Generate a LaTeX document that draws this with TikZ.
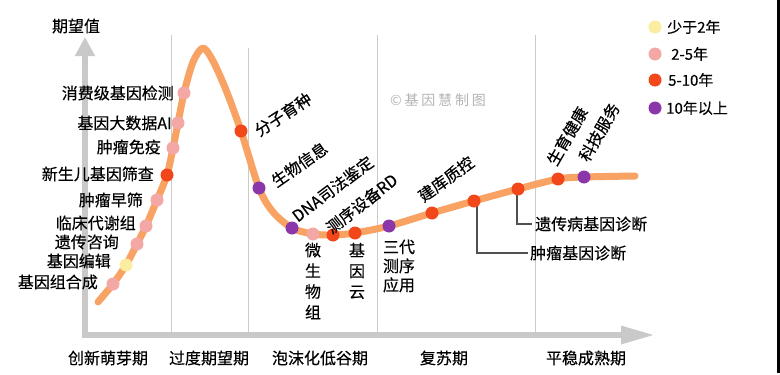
\documentclass[tikz,border=0pt]{standalone}
\usepackage{fontspec}
\setmainfont{Noto Sans CJK SC}[FakeBold=0.35]
\newfontfamily\wmfont{Noto Sans CJK SC}
\usetikzlibrary{arrows.meta}
\definecolor{cOrange}{HTML}{F8A263}
\definecolor{cYel}{HTML}{FAEDA0}
\definecolor{cPink}{HTML}{F4A8A6}
\definecolor{cRed}{HTML}{F1471B}
\definecolor{cPur}{HTML}{8C37A9}
\definecolor{cAxis}{HTML}{C9C9C9}
\definecolor{cDiv}{HTML}{CBCBCB}
\definecolor{cWm}{HTML}{B4B4B4}
\definecolor{cLead}{HTML}{505050}
\begin{document}
\begin{tikzpicture}[x=1pt,y=-1pt,
  dotbase/.style={circle, inner sep=0pt, minimum size=13pt},
  yrA/.style={dotbase, fill=cYel},
  yrB/.style={dotbase, fill=cPink},
  yrC/.style={dotbase, fill=cRed},
  yrD/.style={dotbase, fill=cPur},
  lbl/.style={inner sep=0pt, font=\fontsize{16}{20}\selectfont},
  stack/.style={inner sep=0pt, align=center, font=\fontsize{16}{20.7}\selectfont},
  period/.style={inner sep=0pt, font=\fontsize{16}{20}\selectfont},
  legtxt/.style={inner sep=0pt, anchor=west, font=\fontsize{15}{18}\selectfont},
  divider/.style={draw=cDiv, line width=1pt},
  axisline/.style={draw=cAxis, line width=6pt},
  curveline/.style={draw=cOrange, line width=7pt, line cap=round, line join=round},
  leader/.style={draw=cLead, line width=1.3pt}
]
\fill[white] (0,0) rectangle (780,375);
\useasboundingbox (0,0) rectangle (780,375);
\fill[black] (777,0) rectangle (780,373);

% period dividers
\draw[divider] (171,35) -- (171,332);
\draw[divider] (248,48) -- (248,332);
\draw[divider] (377,35) -- (377,332);
\draw[divider] (535,35) -- (535,332);

% axes
\draw[axisline, -{Triangle[length=19pt,width=19pt]}] (85,338) -- (85,37);
\draw[axisline, -{Triangle[length=34pt,width=17pt]}] (82,335) -- (655,335);
\node[period] (ytitle) at (76,26) {期望值};

% watermark
\node[inner sep=0pt, text=cWm, font=\wmfont\fontsize{14}{16}\selectfont] (wm) at (438,100) {\addfontfeature{LetterSpace=20}©基因慧制图};

% hype curve
\draw[curveline] plot[smooth, tension=0.5] coordinates {
 (98,302) (113,284) (126,265) (137,244) (146,226) (157,200) (167,175)
 (173,148) (178,123) (184,93) (193,62) (203,48) (213,61) (226,90)
 (241,131) (259,188) (273,212) (292,228) (313,234) (333,235) (355,233)
 (389,226) (432,213) (474,201) (518,189) (558,179) (584,177) (635,176)};

% leaders
\coordinate (tl1) at (528,253);
\coordinate (tl2) at (532,224);
\draw[leader] (477,201) |- (tl1);
\draw[leader] (517,189) |- (tl2);

% dots
\node[yrB] (d1) at (113,284) {};
\node[yrA] (d2) at (126,265) {};
\node[yrB] (d3) at (137,244) {};
\node[yrB] (d4) at (146,226) {};
\node[yrB] (d5) at (157,200) {};
\node[yrC] (d6) at (167,175) {};
\node[yrB] (d7) at (173,148) {};
\node[yrB] (d8) at (178,123) {};
\node[yrB] (d9) at (184,93) {};
\node[yrC] (d10) at (241,131) {};
\node[yrD] (d11) at (259,188) {};
\node[yrD] (d12) at (292,228) {};
\node[yrB] (d13) at (313,234) {};
\node[yrC] (d14) at (333,235) {};
\node[yrC] (d15) at (355,233) {};
\node[yrD] (d16) at (389,226) {};
\node[yrC] (d17) at (432,213) {};
\node[yrC] (d18) at (474,201) {};
\node[yrC] (d19) at (518,189) {};
\node[yrC] (d20) at (558,179) {};
\node[yrD] (d21) at (584,177) {};

% left labels
\node[lbl, anchor=east] (l9) at (174,93) {消费级基因检测};
\node[lbl, anchor=east] (l8) at (172,123) {基因大数据AI};
\node[lbl, anchor=east] (l7) at (161,147) {肿瘤免疫};
\node[lbl, anchor=east] (l6) at (154,174) {新生儿基因筛查};
\node[lbl, anchor=east] (l5) at (143,200) {肿瘤早筛};
\node[lbl, anchor=east] (l4) at (136,223) {临床代谢组};
\node[lbl, anchor=east] (l3) at (119,242) {遗传咨询};
\node[lbl, anchor=east] (l2) at (111,261) {基因编辑};
\node[lbl, anchor=east] (l1) at (98,282) {基因组合成};

% rotated labels
\node[lbl, rotate=33, anchor=west] (l10) at (256,132) {分子育种};
\node[lbl, rotate=35, anchor=west] (l11) at (273,183) {生物信息};
\node[lbl, rotate=37, anchor=west] (l12) at (294,218) {DNA司法鉴定};
\node[lbl, rotate=38, anchor=west] (l14) at (328,230) {测序设备RD};
\node[lbl, rotate=36, anchor=west] (l17) at (420,198) {建库质控};
\node[lbl, rotate=60, anchor=west] (l20) at (551,164) {生育健康};
\node[lbl, rotate=60, anchor=west] (l21) at (583,160) {科技服务};

% stacked labels
\node[stack] (l13) at (313,281) {微\\生\\物\\组};
\node[stack] (l15) at (357,271) {基\\因\\云};
\node[stack, font=\fontsize{16}{19}\selectfont] (l16) at (399,266) {三代\\测序\\应用};

% leader labels
\node[lbl, anchor=west] (l18) at (530,253) {肿瘤基因诊断};
\node[lbl, anchor=west] (l19) at (535,224) {遗传病基因诊断};

% periods
\node[period] (p1) at (108,358) {创新萌芽期};
\node[period] (p2) at (209,358) {过度期望期};
\node[period] (p3) at (320,358) {泡沫化低谷期};
\node[period] (p4) at (444,358) {复苏期};
\node[period] (p5) at (586,358) {平稳成熟期};

% legend
\node[yrA] (g1) at (655,27) {};
\node[yrB] (g2) at (655,54) {};
\node[yrC] (g3) at (655,80) {};
\node[yrD] (g4) at (655,108) {};
\node[legtxt] (t1) at (667,27) {少于2年};
\node[legtxt] (t2) at (671,54) {2-5年};
\node[legtxt] (t3) at (668,80) {5-10年};
\node[legtxt] (t4) at (666,108) {10年以上};
\end{tikzpicture}
\end{document}
